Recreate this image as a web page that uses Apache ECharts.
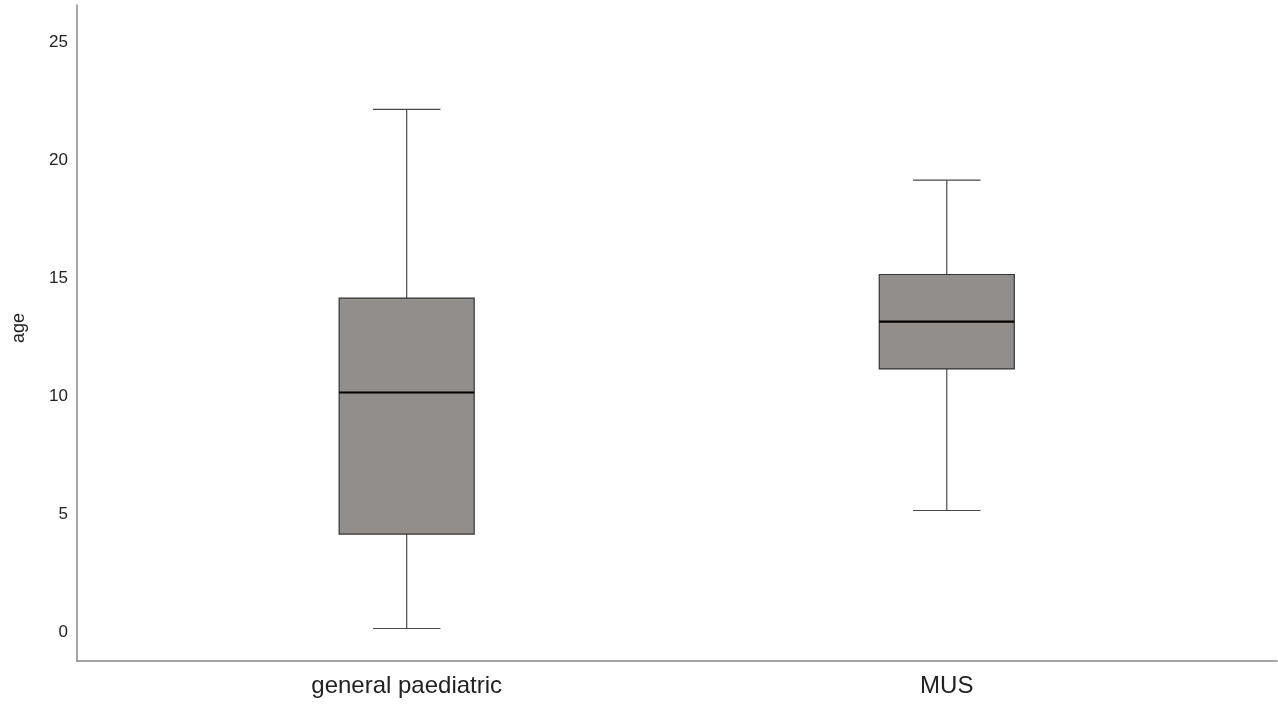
<!DOCTYPE html>
<html>
<head>
<meta charset="utf-8">
<script src="https://cdn.jsdelivr.net/npm/echarts@6/dist/echarts.min.js"></script>
<style>
html,body{margin:0;padding:0;background:#fff;}
#chart{width:1278px;height:707px;}
</style>
</head>
<body>
<div id="chart"></div>
<script>
// Data
var categories = ['general paediatric', 'MUS'];
var whiskerLow = [0, 5];
var q1Values = [4, 11];
var medianValues = [10, 13];
var q3Values = [14, 15];
var whiskerHigh = [22, 19];
var yTickValues = [0, 5, 10, 15, 20, 25];

var seriesData = categories.map(function (c, i) {
  return [i, whiskerLow[i], q1Values[i], medianValues[i], q3Values[i], whiskerHigh[i]];
});

var BOX_WIDTH = 0.25; // in x-axis units
var FONT = "'Liberation Sans', Arial, sans-serif";

function renderItem(params, api) {
  var x = api.value(0);
  var pLow = api.coord([x, api.value(1)]);
  var pQ1 = api.coord([x, api.value(2)]);
  var pMed = api.coord([x, api.value(3)]);
  var pQ3 = api.coord([x, api.value(4)]);
  var pHigh = api.coord([x, api.value(5)]);
  var halfW = api.size([BOX_WIDTH, 0])[0] / 2;
  var capHalf = halfW / 2;
  var cx = pMed[0];
  var whiskerStyle = { stroke: '#4a4a4a', lineWidth: 1.2 };
  return {
    type: 'group',
    children: [
      { type: 'line', shape: { x1: cx, y1: pHigh[1], x2: cx, y2: pQ3[1] }, style: whiskerStyle },
      { type: 'line', shape: { x1: cx, y1: pQ1[1], x2: cx, y2: pLow[1] }, style: whiskerStyle },
      { type: 'line', shape: { x1: cx - capHalf, y1: pHigh[1], x2: cx + capHalf, y2: pHigh[1] }, style: whiskerStyle },
      { type: 'line', shape: { x1: cx - capHalf, y1: pLow[1], x2: cx + capHalf, y2: pLow[1] }, style: whiskerStyle },
      { type: 'rect', shape: { x: cx - halfW, y: pQ3[1], width: halfW * 2, height: pQ1[1] - pQ3[1] },
        style: { fill: '#928e8c', stroke: '#333', lineWidth: 1.2 } },
      { type: 'line', shape: { x1: cx - halfW, y1: pMed[1], x2: cx + halfW, y2: pMed[1] },
        style: { stroke: '#000', lineWidth: 2.2 } }
    ]
  };
}

var chart = echarts.init(document.getElementById('chart'), null, { renderer: 'canvas' });
chart.setOption({
  animation: false,
  backgroundColor: '#fff',
  grid: { left: 77, right: 1, top: 5, bottom: 46, containLabel: false },
  xAxis: {
    type: 'value',
    min: -0.6104,
    max: 1.6114,
    splitLine: { show: false },
    axisTick: { show: false },
    axisLine: { show: true, onZero: false, lineStyle: { color: '#888', width: 1.5 } },
    axisLabel: {
      customValues: [0, 1],
      formatter: function (v) { return categories[Math.round(v)]; },
      fontSize: 24, color: '#222', fontFamily: FONT, margin: 13
    }
  },
  yAxis: {
    type: 'value',
    min: -1.377,
    max: 26.42,
    name: 'age',
    nameLocation: 'middle',
    nameRotate: 90,
    nameGap: 49,
    nameTextStyle: { fontSize: 18, color: '#222', fontFamily: FONT, padding: [0, 0, 0, 10] },
    splitLine: { show: false },
    axisTick: { show: false },
    axisLine: { show: true, onZero: false, lineStyle: { color: '#888', width: 1.5 } },
    axisLabel: {
      customValues: yTickValues,
      formatter: function (v) { return '{t|' + v + '}'; },
      rich: { t: { fontSize: 17, color: '#222', fontFamily: FONT, padding: [7, 0, 0, 0] } },
      fontSize: 17, color: '#222', fontFamily: FONT, margin: 9
    }
  },
  series: [{
    type: 'custom',
    renderItem: renderItem,
    encode: { x: 0, y: [1, 2, 3, 4, 5] },
    data: seriesData
  }]
});
</script>
</body>
</html>
